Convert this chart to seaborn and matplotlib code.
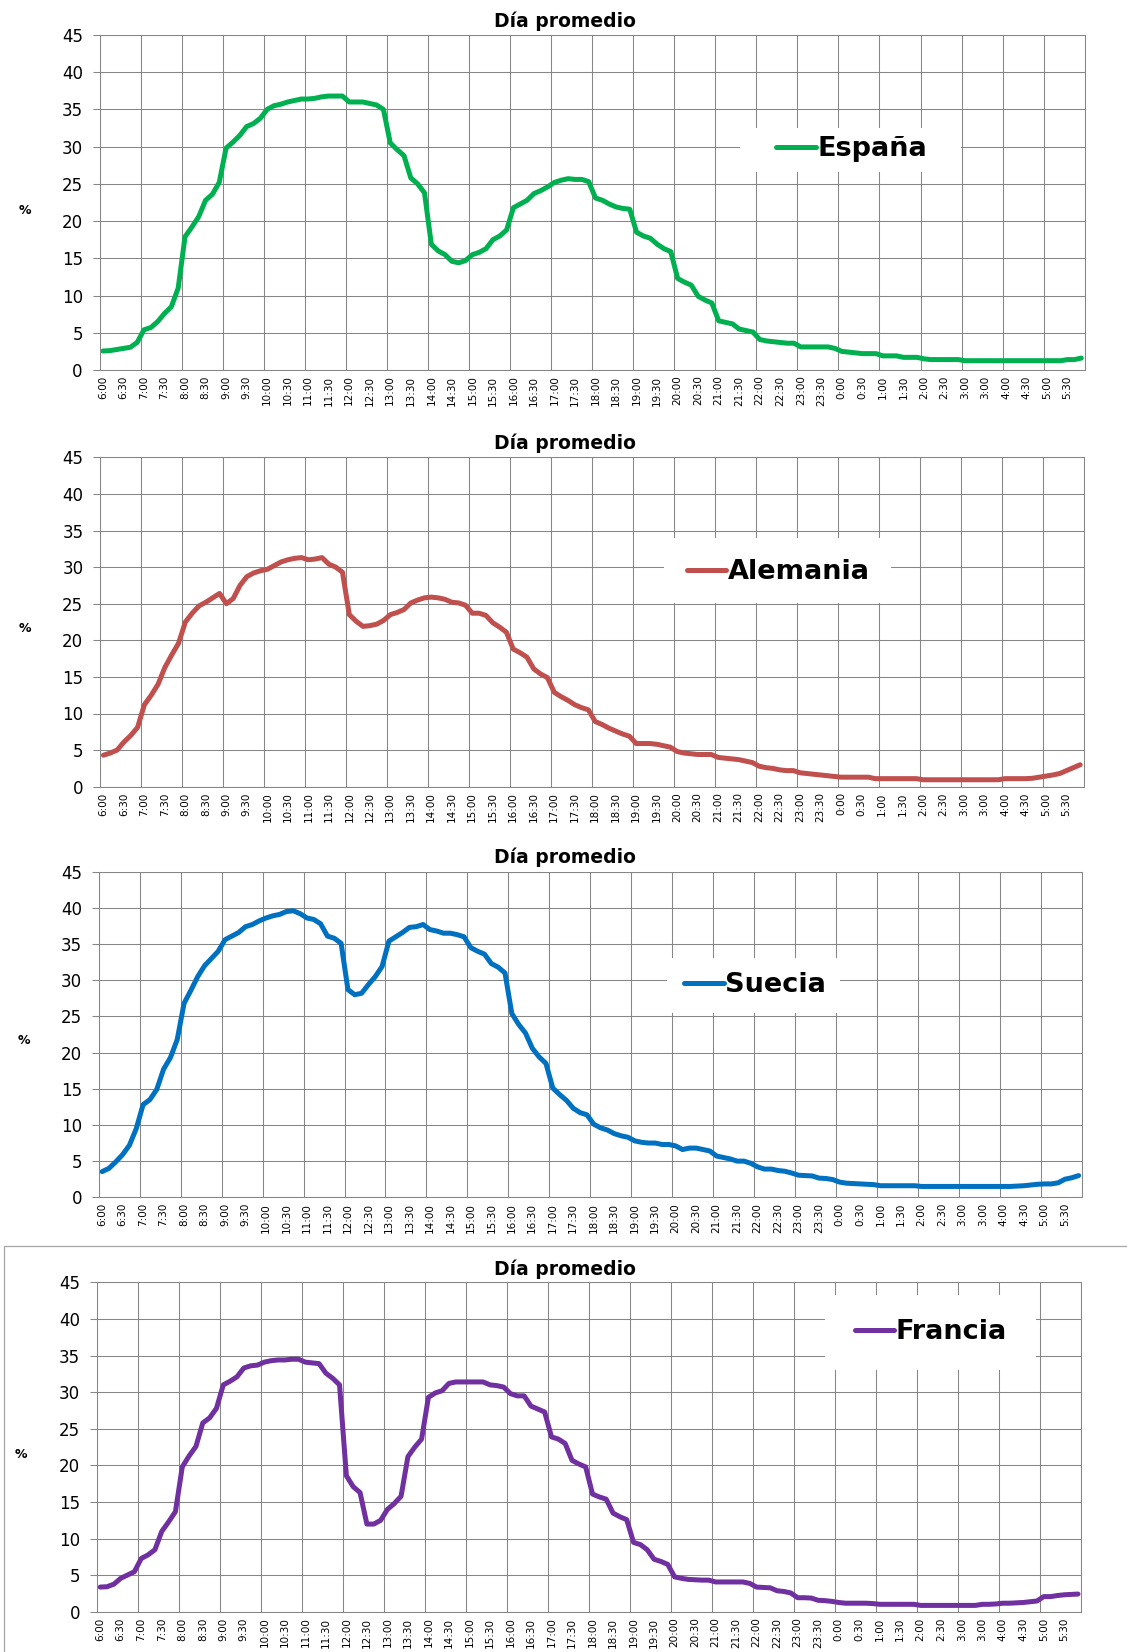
import numpy as np
import pandas as pd
import matplotlib
matplotlib.use("Agg")
import matplotlib.pyplot as plt
from matplotlib.patches import Rectangle
from matplotlib.lines import Line2D
import seaborn as sns

sns.set_style("white")
plt.rcParams["font.family"] = ["DejaVu Sans"]
plt.rcParams["text.color"] = "black"

# ---------------------------------------------------------------
# Data: share (%) per 10-minute slot, 6:00 -> 5:50
# ---------------------------------------------------------------
TICK_LABELS = [
    "6:00", "6:30", "7:00", "7:30", "8:00", "8:30", "9:00", "9:30",
    "10:00", "10:30", "11:00", "11:30", "12:00", "12:30", "13:00", "13:30",
    "14:00", "14:30", "15:00", "15:30", "16:00", "16:30", "17:00", "17:30",
    "18:00", "18:30", "19:00", "19:30", "20:00", "20:30", "21:00", "21:30",
    "22:00", "22:30", "23:00", "23:30", "0:00", "0:30", "1:00", "1:30",
    "2:00", "2:30", "3:00", "3:00", "4:00", "4:30", "5:00", "5:30",
]

ESPANA = [
    2.55, 2.6, 2.75, 2.9, 3.05, 3.7, 5.4, 5.7, 6.5, 7.6, 8.5, 11.0,
    17.9, 19.2, 20.6, 22.8, 23.6, 25.2, 29.8, 30.6, 31.5, 32.7, 33.1, 33.8,
    35.0, 35.5, 35.7, 36.0, 36.2, 36.4, 36.4, 36.5, 36.7, 36.8, 36.8, 36.8,
    36.0, 36.0, 36.0, 35.8, 35.6, 35.0, 30.5, 29.6, 28.8, 25.8, 25.0, 23.8,
    16.9, 16.0, 15.5, 14.6, 14.4, 14.7, 15.5, 15.8, 16.3, 17.5, 18.0, 18.8,
    21.8, 22.3, 22.8, 23.7, 24.1, 24.6, 25.2, 25.5, 25.7, 25.6, 25.6, 25.3,
    23.1, 22.8, 22.3, 21.9, 21.7, 21.6, 18.5, 18.0, 17.7, 16.9, 16.3, 15.9,
    12.3, 11.8, 11.4, 9.9, 9.4, 9.0, 6.6, 6.4, 6.2, 5.5, 5.3, 5.1,
    4.1, 3.9, 3.8, 3.7, 3.6, 3.6, 3.1, 3.1, 3.1, 3.1, 3.1, 2.9,
    2.5, 2.4, 2.3, 2.2, 2.2, 2.2, 1.9, 1.9, 1.9, 1.7, 1.7, 1.7,
    1.5, 1.4, 1.4, 1.4, 1.4, 1.4, 1.25, 1.25, 1.25, 1.25, 1.25, 1.25,
    1.25, 1.25, 1.25, 1.25, 1.25, 1.25, 1.25, 1.25, 1.25, 1.4, 1.4, 1.6,
]

ALEMANIA = [
    4.3, 4.6, 5.0, 6.1, 7.0, 8.1, 11.2, 12.5, 14.0, 16.3, 18.0, 19.6,
    22.5, 23.7, 24.7, 25.2, 25.8, 26.4, 25.0, 25.7, 27.5, 28.7, 29.2, 29.5,
    29.7, 30.2, 30.7, 31.0, 31.2, 31.3, 31.0, 31.1, 31.3, 30.4, 30.0, 29.3,
    23.5, 22.6, 21.9, 22.0, 22.2, 22.7, 23.5, 23.8, 24.2, 25.1, 25.5, 25.8,
    25.9, 25.8, 25.6, 25.2, 25.1, 24.8, 23.7, 23.7, 23.4, 22.4, 21.8, 21.1,
    18.8, 18.3, 17.7, 16.1, 15.4, 14.9, 12.9, 12.3, 11.8, 11.2, 10.8, 10.5,
    8.9, 8.5, 8.0, 7.6, 7.2, 6.9, 5.9, 5.9, 5.9, 5.8, 5.6, 5.4,
    4.8, 4.6, 4.5, 4.4, 4.4, 4.4, 4.0, 3.9, 3.8, 3.7, 3.5, 3.3,
    2.8, 2.6, 2.5, 2.3, 2.2, 2.2, 1.9, 1.8, 1.7, 1.6, 1.5, 1.4,
    1.3, 1.3, 1.3, 1.3, 1.3, 1.1, 1.1, 1.1, 1.1, 1.1, 1.1, 1.1,
    0.95, 0.95, 0.95, 0.95, 0.95, 0.95, 0.95, 0.95, 0.95, 0.95, 0.95, 0.95,
    1.1, 1.1, 1.1, 1.1, 1.15, 1.3, 1.45, 1.6, 1.8, 2.2, 2.6, 3.0,
]

SUECIA = [
    3.55, 4.0, 4.9, 5.9, 7.2, 9.5, 12.8, 13.5, 14.9, 17.7, 19.3, 21.8,
    26.8, 28.6, 30.5, 32.0, 33.0, 34.0, 35.6, 36.1, 36.6, 37.4, 37.7, 38.2,
    38.6, 38.9, 39.1, 39.5, 39.6, 39.2, 38.6, 38.4, 37.8, 36.1, 35.8, 35.1,
    28.7, 28.0, 28.2, 29.4, 30.5, 31.9, 35.4, 36.0, 36.6, 37.3, 37.4, 37.7,
    37.0, 36.8, 36.5, 36.5, 36.3, 36.0, 34.5, 34.0, 33.6, 32.3, 31.8, 31.0,
    25.4, 23.9, 22.7, 20.6, 19.4, 18.5, 15.1, 14.2, 13.4, 12.3, 11.7, 11.4,
    10.1, 9.6, 9.3, 8.8, 8.5, 8.3, 7.8, 7.6, 7.5, 7.5, 7.3, 7.3,
    7.1, 6.6, 6.8, 6.8, 6.6, 6.4, 5.7, 5.5, 5.3, 5.0, 5.0, 4.7,
    4.2, 3.9, 3.9, 3.7, 3.6, 3.35, 3.05, 3.0, 2.95, 2.65, 2.6, 2.45,
    2.1, 1.95, 1.9, 1.85, 1.8, 1.75, 1.6, 1.6, 1.6, 1.6, 1.6, 1.6,
    1.5, 1.5, 1.5, 1.5, 1.5, 1.5, 1.5, 1.5, 1.5, 1.5, 1.5, 1.5,
    1.5, 1.5, 1.55, 1.6, 1.7, 1.8, 1.85, 1.85, 2.0, 2.5, 2.7, 3.0,
]

FRANCIA = [
    3.4, 3.45, 3.8, 4.6, 5.05, 5.5, 7.3, 7.8, 8.5, 11.0, 12.3, 13.7,
    19.8, 21.3, 22.6, 25.8, 26.5, 27.8, 31.0, 31.5, 32.1, 33.3, 33.6, 33.7,
    34.1, 34.3, 34.4, 34.4, 34.5, 34.5, 34.1, 34.0, 33.9, 32.6, 31.9, 31.0,
    18.6, 17.1, 16.3, 12.0, 12.0, 12.5, 14.0, 14.8, 15.8, 21.2, 22.5, 23.6,
    29.3, 29.9, 30.2, 31.2, 31.4, 31.4, 31.4, 31.4, 31.4, 31.0, 30.9, 30.7,
    29.8, 29.5, 29.5, 28.1, 27.7, 27.3, 23.9, 23.6, 23.0, 20.7, 20.2, 19.8,
    16.1, 15.7, 15.4, 13.5, 13.0, 12.6, 9.5, 9.2, 8.5, 7.2, 6.9, 6.5,
    4.8, 4.6, 4.45, 4.4, 4.35, 4.35, 4.1, 4.1, 4.1, 4.1, 4.1, 3.9,
    3.4, 3.35, 3.3, 2.9, 2.8, 2.6, 1.95, 1.95, 1.9, 1.6, 1.55, 1.45,
    1.3, 1.2, 1.2, 1.2, 1.2, 1.15, 1.05, 1.05, 1.05, 1.05, 1.05, 1.05,
    0.9, 0.9, 0.9, 0.9, 0.9, 0.9, 0.9, 0.9, 0.9, 1.05, 1.05, 1.1,
    1.2, 1.2, 1.25, 1.3, 1.4, 1.5, 2.1, 2.1, 2.25, 2.35, 2.4, 2.45,
]

COUNTRIES = ["España", "Alemania", "Suecia", "Francia"]
COLORS = ["#00B050", "#C0504D", "#0070C0", "#7030A0"]
VALUES = [ESPANA, ALEMANIA, SUECIA, FRANCIA]

# ---------------------------------------------------------------
# Layout (pixels of a 1127 x 1652 canvas)
# ---------------------------------------------------------------
W, H = 1127, 1652
GRID = "#868686"

# axes: left, top, right, bottom
AXES_PX = [(99.5, 35, 1084.7, 370), (100, 457.3, 1083.6, 786.7),
           (98.7, 871.7, 1082, 1197.3), (96.8, 1282.3, 1081.4, 1612)]
# white legend box: left, top, right, bottom
BOX_PX = [(740, 128, 961, 172), (663.5, 538, 891, 603),
          (667, 958, 840, 1013), (825, 1295, 1036, 1370)]
# legend content centre
LEG_PX = [(851.6, 149), (778.5, 572), (755, 985), (931, 1332)]
TITLE_Y = [21, 443, 857, 1269]
PCT_PX = [(25, 210), (25, 629), (24, 1041), (21, 1455)]

fig = plt.figure(figsize=(W / 100, H / 100), dpi=100)

# faint frame around the last chart
fig.add_artist(Line2D([4 / W, 1], [1 - 1246 / H] * 2, color="#A6A6A6", lw=0.9))
fig.add_artist(Line2D([4 / W] * 2, [0, 1 - 1246 / H], color="#A6A6A6", lw=0.9))

pos = np.arange(144) + 0.5

for k, name in enumerate(COUNTRIES):
    l, t, r, b = AXES_PX[k]
    ax = fig.add_axes([l / W, 1 - b / H, (r - l) / W, (b - t) / H])

    df = pd.DataFrame({"pos": pos, "valor": VALUES[k]})
    sns.lineplot(data=df, x="pos", y="valor", ax=ax, color=COLORS[k], lw=3.6,
                 label=name, solid_joinstyle="round", solid_capstyle="round")

    ax.set_xlim(0, 144)
    ax.set_ylim(0, 45)
    ax.set_yticks(range(0, 46, 5))
    ax.set_xticks(np.arange(0, 144, 3) + 0.5)
    ax.set_xticklabels(TICK_LABELS, rotation=90, fontsize=7.5)
    ax.set_xticks(np.arange(0, 145, 6), minor=True)
    ax.tick_params(axis="x", which="major", length=0, pad=4, labelcolor="black")
    ax.tick_params(axis="x", which="minor", length=3, width=0.75, color=GRID)
    ax.tick_params(axis="y", length=5, width=0.75, color=GRID, pad=7,
                   labelsize=12, labelcolor="black", left=True)
    ax.grid(which="minor", axis="x", color=GRID, lw=0.75)
    ax.grid(which="major", axis="y", color=GRID, lw=0.75)
    ax.grid(which="major", axis="x", visible=False)
    ax.set_axisbelow(True)
    for sp in ax.spines.values():
        sp.set_color(GRID)
        sp.set_linewidth(0.75)
    ax.set_xlabel("")
    ax.set_ylabel("")

    # white box behind the legend
    bl, bt, br, bb = BOX_PX[k]
    ax.add_patch(Rectangle(((bl - l) / (r - l), (b - bb) / (b - t)),
                           (br - bl) / (r - l), (bb - bt) / (b - t),
                           transform=ax.transAxes, facecolor="white",
                           edgecolor="none", zorder=4))
    cx, cy = LEG_PX[k]
    leg = ax.legend(loc="center", bbox_to_anchor=((cx - l) / (r - l), (b - cy) / (b - t)),
                    frameon=False, handlelength=1.45, handletextpad=0.05,
                    borderpad=0, labelcolor="black",
                    prop={"size": 19.5, "weight": "bold"})
    leg.set_zorder(5)

    fig.text(565 / W, 1 - TITLE_Y[k] / H, "Día promedio", ha="center", va="center",
             fontsize=13.5, fontweight="bold")
    px, py = PCT_PX[k]
    fig.text(px / W, 1 - py / H, "%", ha="center", va="center",
             fontsize=9, fontweight="bold")

fig.savefig("out.png", dpi=100)
